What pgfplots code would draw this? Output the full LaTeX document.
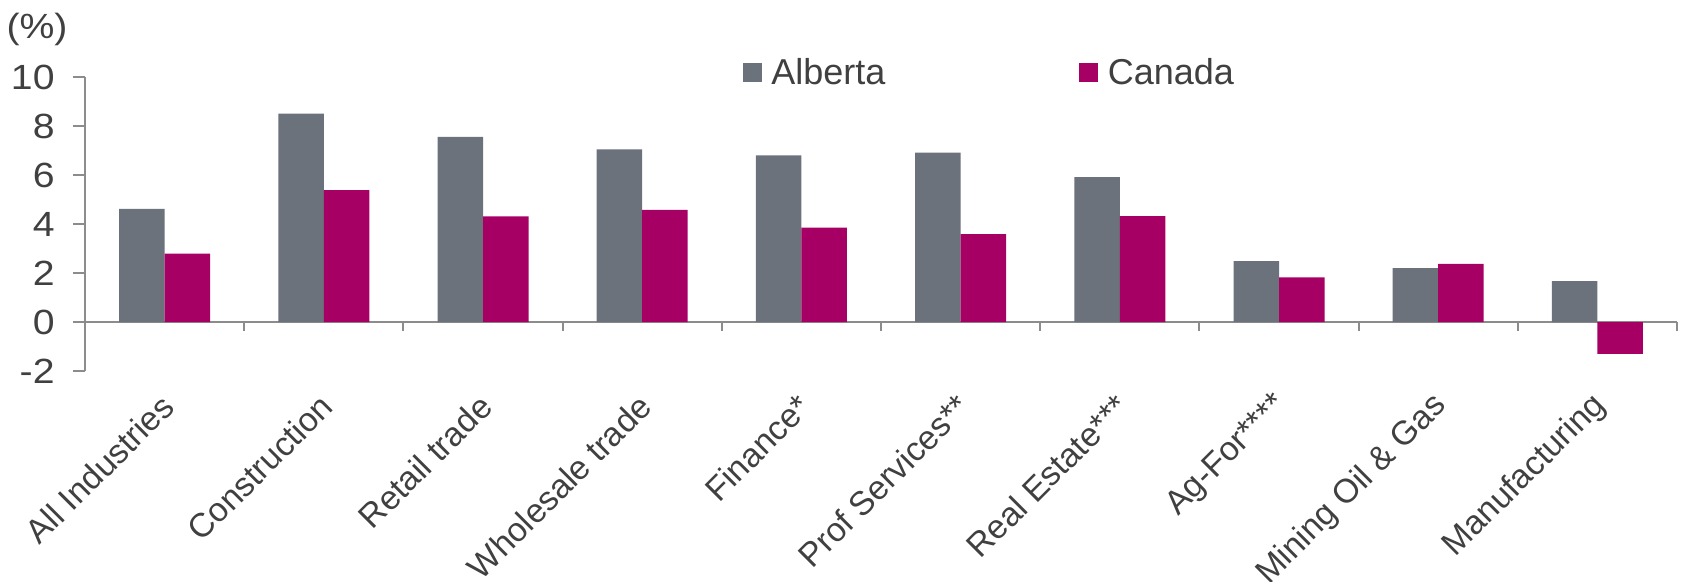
\documentclass[border=0pt]{standalone}
\usepackage{fontspec}
\setmainfont{Liberation Sans}
\newfontfamily\tickfont{Liberation Sans}[FakeStretch=1.12]
\usepackage{pgfplots}
\pgfplotsset{compat=1.18}
\definecolor{alb}{HTML}{6B727B}
\definecolor{can}{HTML}{A60065}
\definecolor{txt}{HTML}{404040}
\definecolor{axg}{HTML}{8C8C8C}
\begin{document}
\begin{tikzpicture}[x=1pt,y=1pt]
\path[use as bounding box] (0,0) rectangle (841.5,291);
\begin{axis}[
  at={(42.5pt,105.5pt)}, anchor=south west,
  scale only axis, width=796pt, height=146.85pt,
  xmin=-0.5, xmax=9.5, ymin=-2, ymax=10,
  axis y line=left, axis x line=middle,
  axis line style={-, draw=axg, line width=1pt},
  hide obscured x ticks=false, hide obscured y ticks=false,
  ybar=0pt, bar width=22.75pt,
  xtick={0,...,9},
  xticklabels={All Industries,Construction,Retail trade,Wholesale trade,Finance*,Prof Services**,Real Estate***,Ag-For****,Mining Oil \& Gas,Manufacturing},
  major x tick style={draw=none},
  minor xtick={-0.5,0.5,...,9.5},
  minor x tick style={draw=axg, line width=1pt},
  ytick={-2,0,...,10},
  major y tick style={draw=axg, line width=1pt},
  tick align=outside,
  major tick length=6pt, minor tick length=4.5pt,
  /pgf/number format/assume math mode=true,
  ticklabel style={text=txt},
  xticklabel style={font=\fontsize{16.8}{19}\selectfont, xshift=1.6pt, yshift=-33.3pt, rotate=45, anchor=east, inner sep=0pt},
  yticklabel style={font=\tickfont\fontsize{17.5}{20}\selectfont, anchor=east, inner sep=0pt, xshift=-9pt},
  legend columns=2,
  legend style={at={(0.4133,1.0160)}, anchor=west, draw=none, fill=none,
    inner sep=0pt, outer sep=0pt,
    font=\fontsize{18}{21}\selectfont, text=txt,
    /tikz/every odd column/.append style={column sep=2.7pt},
    /tikz/every even column/.append style={column sep=95pt}},
]
\addplot[fill=alb, draw=none, legend image code/.code={\fill[alb] (0pt,-4.75pt) rectangle (9.5pt,4.75pt);}]
  coordinates {(0,4.62) (1,8.52) (2,7.57) (3,7.05) (4,6.81) (5,6.92) (6,5.92) (7,2.49) (8,2.20) (9,1.67)};
\addplot[fill=can, draw=none, legend image code/.code={\fill[can] (0pt,-4.75pt) rectangle (9.5pt,4.75pt);}]
  coordinates {(0,2.80) (1,5.39) (2,4.32) (3,4.58) (4,3.86) (5,3.59) (6,4.33) (7,1.83) (8,2.38) (9,-1.30)};
\legend{Alberta,Canada}
\end{axis}
\node[font=\tickfont\fontsize{17.5}{20}\selectfont, text=txt] at (18.5,276.5) {(\%)};
\end{tikzpicture}
\end{document}
